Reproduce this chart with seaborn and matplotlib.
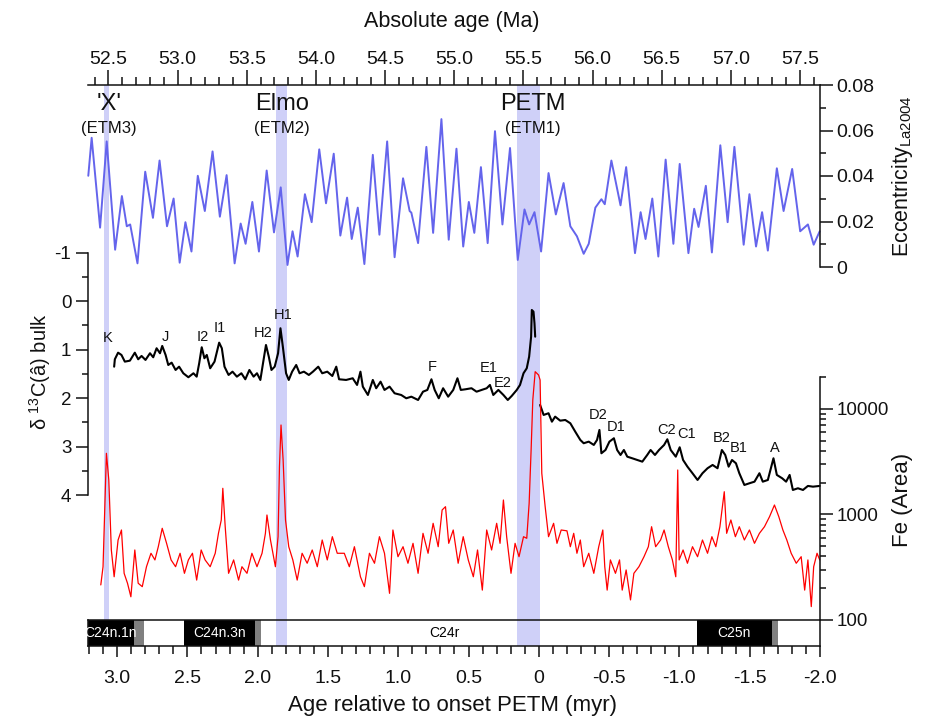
import numpy as np
import matplotlib
matplotlib.use("Agg")
import matplotlib.pyplot as plt
import matplotlib.ticker as mticker
import matplotlib.transforms as mtransforms
import seaborn as sns

# ---------------- data ----------------
# eccentricity (La2004) vs age relative to PETM onset (myr)
ecc_age = [3.205, 3.181, 3.121, 3.074, 3.014, 2.966, 2.931, 2.907, 2.855, 2.800,
           2.745, 2.698, 2.645, 2.598, 2.555, 2.514, 2.471, 2.426, 2.376, 2.321,
           2.269, 2.221, 2.164, 2.121, 2.086, 2.038, 1.991, 1.936, 1.884, 1.836,
           1.788, 1.752, 1.716, 1.664, 1.616, 1.562, 1.514, 1.459, 1.412, 1.364,
           1.331, 1.288, 1.241, 1.181, 1.134, 1.079, 1.026, 0.966, 0.919, 0.907,
           0.859, 0.800, 0.752, 0.693, 0.641, 0.586, 0.538, 0.498, 0.459, 0.412,
           0.364, 0.312, 0.259, 0.205, 0.150, 0.102, 0.069, 0.031, -0.016, -0.069,
           -0.121, -0.176, -0.224, -0.271, -0.319, -0.355, -0.402, -0.445, -0.469, -0.516,
           -0.581, -0.621, -0.684, -0.724, -0.759, -0.807, -0.850, -0.902, -0.957, -1.002,
           -1.064, -1.105, -1.136, -1.188, -1.231, -1.291, -1.343, -1.391, -1.457, -1.498,
           -1.545, -1.588, -1.629, -1.693, -1.741, -1.802, -1.859, -1.914, -1.955, -1.998]
ecc_val = [0.0401, 0.0568, 0.0173, 0.0552, 0.0076, 0.0312, 0.0179, 0.0187, 0.0016, 0.0419,
           0.0216, 0.0468, 0.0179, 0.0301, 0.0019, 0.0197, 0.0068, 0.0401, 0.0246, 0.0508,
           0.0221, 0.0404, 0.0016, 0.0191, 0.0102, 0.0286, 0.0068, 0.0424, 0.0152, 0.0350,
           0.0009, 0.0157, 0.0046, 0.0320, 0.0197, 0.0517, 0.0280, 0.0498, 0.0138, 0.0305,
           0.0123, 0.0261, 0.0013, 0.0493, 0.0142, 0.0552, 0.0043, 0.0390, 0.0246, 0.0239,
           0.0105, 0.0528, 0.0150, 0.0650, 0.0120, 0.0520, 0.0090, 0.0286, 0.0150, 0.0439,
           0.0105, 0.0597, 0.0187, 0.0523, 0.0031, 0.0253, 0.0187, 0.0241, 0.0068, 0.0413,
           0.0231, 0.0369, 0.0179, 0.0135, 0.0058, 0.0102, 0.0261, 0.0298, 0.0276, 0.0468,
           0.0271, 0.0439, 0.0061, 0.0241, 0.0123, 0.0301, 0.0046, 0.0472, 0.0102, 0.0453,
           0.0061, 0.0256, 0.0176, 0.0357, 0.0064, 0.0535, 0.0197, 0.0528, 0.0098, 0.0320,
           0.0090, 0.0241, 0.0072, 0.0434, 0.0246, 0.0431, 0.0157, 0.0187, 0.0098, 0.0157]

# bulk d13C, pre-PETM part (through the CIE)
c13_age_pre = [3.021, 3.016, 2.993, 2.969, 2.945, 2.909, 2.874, 2.850, 2.826, 2.798,
               2.766, 2.743, 2.719, 2.695, 2.679, 2.655, 2.636, 2.612, 2.584, 2.559,
               2.529, 2.493, 2.457, 2.434, 2.416, 2.398, 2.379, 2.362, 2.338, 2.307,
               2.274, 2.255, 2.236, 2.207, 2.179, 2.148, 2.116, 2.088, 2.059, 2.029,
               2.005, 1.981, 1.964, 1.941, 1.921, 1.902, 1.879, 1.855, 1.838, 1.821,
               1.798, 1.779, 1.755, 1.726, 1.702, 1.671, 1.636, 1.607, 1.569, 1.541,
               1.505, 1.469, 1.441, 1.421, 1.371, 1.324, 1.293, 1.269, 1.252, 1.216,
               1.181, 1.157, 1.126, 1.098, 1.062, 1.026, 0.979, 0.943, 0.907, 0.859,
               0.824, 0.793, 0.764, 0.741, 0.712, 0.681, 0.645, 0.609, 0.579, 0.555,
               0.521, 0.479, 0.443, 0.407, 0.371, 0.348, 0.324, 0.288, 0.252, 0.221,
               0.193, 0.157, 0.134, 0.109, 0.086, 0.069, 0.055, 0.050, 0.038, 0.031, 0.026]
c13_val_pre = [1.352, 1.199, 1.063, 1.110, 1.248, 1.228, 1.063, 1.199, 1.131, 1.213,
               1.075, 1.158, 0.972, 1.075, 0.924, 1.110, 1.317, 1.269, 1.420, 1.352,
               1.488, 1.570, 1.488, 1.558, 1.281, 0.951, 1.178, 1.110, 1.385, 1.248,
               0.856, 0.972, 1.352, 1.523, 1.455, 1.558, 1.488, 1.612, 1.420, 1.558,
               1.488, 1.626, 1.317, 0.904, 1.145, 1.420, 1.352, 1.075, 0.559, 0.939,
               1.488, 1.626, 1.455, 1.317, 1.488, 1.455, 1.523, 1.455, 1.352, 1.488,
               1.455, 1.544, 1.352, 1.612, 1.626, 1.591, 1.729, 1.455, 1.764, 1.936,
               1.626, 1.797, 1.661, 1.832, 1.764, 1.901, 1.936, 2.004, 1.971, 2.039,
               1.868, 1.832, 1.612, 1.832, 2.004, 1.797, 1.971, 1.832, 1.591, 1.832,
               1.818, 1.797, 1.868, 1.832, 1.797, 1.729, 1.936, 1.832, 1.936, 2.039,
               1.956, 1.832, 1.729, 1.488, 1.385, 1.145, 0.733, 0.182, 0.217, 0.456, 0.733]

# bulk d13C, post-PETM part
c13_age_post = [-0.009, -0.034, -0.069, -0.093, -0.116, -0.152, -0.188, -0.224, -0.259, -0.295,
                -0.319, -0.355, -0.391, -0.414, -0.431, -0.445, -0.474, -0.502, -0.534, -0.557,
                -0.581, -0.605, -0.629, -0.664, -0.700, -0.736, -0.771, -0.795, -0.826, -0.855,
                -0.891, -0.914, -0.938, -0.974, -1.002, -1.026, -1.057, -1.093, -1.129, -1.164,
                -1.200, -1.236, -1.271, -1.302, -1.326, -1.350, -1.374, -1.402, -1.426, -1.462,
                -1.498, -1.534, -1.569, -1.593, -1.629, -1.669, -1.693, -1.731, -1.759, -1.784,
                -1.807, -1.843, -1.879, -1.914, -1.950, -1.998]
c13_val_post = [2.142, 2.348, 2.313, 2.487, 2.383, 2.466, 2.452, 2.520, 2.693, 2.864,
                2.932, 2.899, 2.967, 2.864, 2.658, 3.139, 3.071, 2.899, 2.829, 3.071,
                3.174, 3.071, 3.209, 3.242, 3.277, 3.312, 3.174, 3.071, 3.174, 3.071,
                2.967, 2.850, 3.071, 3.209, 3.015, 3.277, 3.415, 3.551, 3.690, 3.551,
                3.448, 3.380, 3.448, 3.071, 3.174, 3.415, 3.277, 3.345, 3.551, 3.793,
                3.758, 3.725, 3.551, 3.725, 3.690, 3.242, 3.586, 3.655, 3.725, 3.586,
                3.896, 3.861, 3.896, 3.813, 3.828, 3.813]

# XRF Fe (area)
fe_age = [3.116, 3.100, 3.076, 3.059, 3.041, 3.021, 2.993, 2.969, 2.950, 2.926,
          2.902, 2.874, 2.850, 2.821, 2.791, 2.759, 2.731, 2.707, 2.679, 2.648,
          2.616, 2.584, 2.552, 2.521, 2.493, 2.464, 2.434, 2.402, 2.374, 2.338,
          2.302, 2.279, 2.259, 2.248, 2.231, 2.207, 2.171, 2.136, 2.112, 2.076,
          2.041, 2.005, 1.969, 1.945, 1.934, 1.909, 1.874, 1.855, 1.845, 1.834,
          1.819, 1.802, 1.779, 1.750, 1.719, 1.684, 1.648, 1.612, 1.576, 1.541,
          1.505, 1.469, 1.434, 1.384, 1.348, 1.312, 1.269, 1.241, 1.205, 1.169,
          1.134, 1.098, 1.062, 1.038, 1.002, 0.966, 0.931, 0.895, 0.859, 0.824,
          0.788, 0.752, 0.716, 0.688, 0.664, 0.641, 0.609, 0.574, 0.538, 0.502,
          0.466, 0.436, 0.402, 0.371, 0.336, 0.300, 0.276, 0.252, 0.229, 0.198,
          0.169, 0.141, 0.109, 0.086, 0.069, 0.055, 0.043, 0.026, 0.002, -0.009,
          -0.021, -0.045, -0.069, -0.105, -0.129, -0.159, -0.200, -0.224, -0.248, -0.271,
          -0.295, -0.319, -0.355, -0.391, -0.426, -0.455, -0.469, -0.486, -0.509, -0.545,
          -0.574, -0.593, -0.621, -0.652, -0.676, -0.712, -0.748, -0.779, -0.802, -0.831,
          -0.866, -0.891, -0.921, -0.950, -0.974, -0.988, -0.998, -1.026, -1.057, -1.093,
          -1.129, -1.164, -1.200, -1.231, -1.259, -1.288, -1.319, -1.336, -1.366, -1.398,
          -1.426, -1.462, -1.498, -1.534, -1.569, -1.605, -1.641, -1.676, -1.707, -1.736,
          -1.764, -1.795, -1.831, -1.866, -1.891, -1.914, -1.938, -1.955, -1.979, -1.998]
fe_val = [215, 320, 3800, 2124, 461, 257, 573, 713, 277, 223,
          166, 461, 223, 207, 320, 429, 371, 495, 740, 533,
          371, 320, 429, 277, 371, 429, 239, 461, 371, 320,
          429, 663, 887, 1771, 766, 277, 371, 239, 320, 277,
          429, 320, 429, 663, 989, 573, 320, 616, 2838, 7050,
          3286, 887, 495, 371, 239, 429, 345, 461, 320, 573,
          371, 616, 429, 429, 320, 495, 257, 207, 429, 345,
          616, 429, 179, 713, 398, 495, 345, 533, 277, 663,
          429, 825, 495, 1103, 1186, 533, 713, 345, 616, 371,
          257, 461, 192, 713, 461, 825, 533, 1372, 616, 277,
          533, 398, 616, 595, 1277, 4087, 12170, 22580, 21000, 18830,
          2457, 1186, 616, 825, 533, 713, 700, 495, 663, 429,
          573, 320, 429, 277, 495, 713, 320, 192, 371, 277,
          371, 192, 298, 155, 277, 320, 398, 495, 766, 495,
          573, 713, 495, 371, 257, 2642, 371, 461, 345, 495,
          398, 573, 429, 616, 495, 766, 1644, 663, 887, 616,
          766, 573, 713, 533, 663, 766, 953, 1230, 953, 713,
          573, 429, 345, 398, 192, 371, 134, 320, 429, 371]

# labelled d13C excursions
peak_names = ['K', 'J', 'I2', 'I1', 'H2', 'H1', 'F', 'E1', 'E2',
              'D2', 'D1', 'C2', 'C1', 'B2', 'B1', 'A']
peak_age = [3.07, 2.66, 2.39, 2.27, 1.96, 1.82, 0.76, 0.36, 0.26,
            -0.42, -0.55, -0.91, -1.05, -1.30, -1.42, -1.68]
peak_val = [0.77, 0.73, 0.73, 0.56, 0.66, 0.28, 1.36, 1.38, 1.69,
            2.35, 2.59, 2.66, 2.74, 2.83, 3.04, 3.04]

# hyperthermal events (shaded bands)
event_names = ["'X'", "Elmo", "PETM"]
event_sub = ["(ETM3)", "(ETM2)", "(ETM1)"]
event_start = [3.093, 1.871, 0.157]
event_end = [3.055, 1.793, -0.009]
event_label_age = [3.06, 1.83, 0.04]

# magnetochrons
chron_start = [3.207, 2.88, 2.81, 2.526, 2.02, 1.974, -1.125, -1.658, -1.70]
chron_end = [2.88, 2.81, 2.526, 2.02, 1.974, -1.125, -1.658, -1.70, -2.0]
chron_fill = ['black', 'gray', 'white', 'black', 'gray', 'white', 'black', 'gray', 'white']
chron_names = ['C24n.1n', 'C24n.3n', 'C24r', 'C25n']
chron_name_age = [3.05, 2.27, 0.67, -1.39]
chron_name_color = ['white', 'white', 'black', 'white']

rel_ticks = [3.0, 2.5, 2.0, 1.5, 1.0, 0.5, 0.0, -0.5, -1.0, -1.5, -2.0]

# ---------------- style ----------------
sns.set_theme(style="ticks")
plt.rcParams['font.family'] = ['Liberation Sans', 'DejaVu Sans']
plt.rcParams['axes.unicode_minus'] = False
NARROW = ['Liberation Sans Narrow', 'Liberation Sans', 'DejaVu Sans']
BAND = '#cfd0f8'
ECC_C = '#6464ec'
INK = '#111111'
SPW = 1.1

fig = plt.figure(figsize=(9.3, 7.17), dpi=100)
W, H = 930.0, 717.0
XLIM = (3.207, -2.0)


def add_ax(x0, y0, x1, y1):
    ax = fig.add_axes([x0 / W, 1 - y1 / H, (x1 - x0) / W, (y1 - y0) / H])
    ax.set_facecolor('none')
    for s in ax.spines.values():
        s.set_visible(False)
        s.set_linewidth(SPW)
        s.set_color(INK)
    ax.tick_params(which='both', left=False, right=False, top=False, bottom=False,
                   labelleft=False, labelright=False, labeltop=False, labelbottom=False,
                   color=INK, width=SPW, labelcolor=INK)
    ax.grid(False)
    return ax


# base axes: event bands and labels
base = add_ax(88, 85, 820, 646)
base.set_xlim(*XLIM)
base.set_ylim(0, 1)
for s, e in zip(event_start, event_end):
    base.axvspan(s, e, color=BAND, lw=0, zorder=0)
tr = mtransforms.blended_transform_factory(base.transData, base.transAxes)
for name, sub, xa in zip(event_names, event_sub, event_label_age):
    base.text(xa, 0.966, name, ha='center', va='center', fontsize=17, color=INK, transform=tr)
    base.text(xa, 0.922, sub, ha='center', va='center', fontsize=12, color=INK, transform=tr)

# top axis: absolute age
top = add_ax(88, 85, 820, 646)
top.set_xlim(52.352, 57.645)
top.spines['top'].set_visible(True)
top.xaxis.set_ticks_position('top')
top.xaxis.set_major_locator(mticker.MultipleLocator(0.5))
top.xaxis.set_minor_locator(mticker.MultipleLocator(0.1))
top.xaxis.set_major_formatter(mticker.FormatStrFormatter('%.1f'))
top.tick_params(which='both', top=True, labeltop=True, direction='out')
top.tick_params(which='major', length=10.5, labelsize=14, pad=1.5, labelfontfamily=NARROW)
top.tick_params(which='minor', length=5.5)
top.set_yticks([])

# eccentricity
ax_e = add_ax(88, 85, 820, 267)
sns.lineplot(x=ecc_age, y=ecc_val, ax=ax_e, color=ECC_C, linewidth=1.4,
             sort=False, estimator=None, clip_on=False)
ax_e.set_xlim(*XLIM)
ax_e.set_ylim(0, 0.08)
ax_e.spines['right'].set_visible(True)
ax_e.yaxis.set_ticks_position('right')
ax_e.yaxis.set_major_locator(mticker.MultipleLocator(0.02))
ax_e.yaxis.set_minor_locator(mticker.MultipleLocator(0.01))
ax_e.yaxis.set_major_formatter(mticker.FuncFormatter(lambda v, _: '0' if abs(v) < 1e-9 else f'{v:.2f}'))
ax_e.tick_params(which='both', right=True, labelright=True, direction='out')
ax_e.tick_params(which='major', length=9, labelsize=14, pad=3)
ax_e.tick_params(which='minor', length=4.5)
ax_e.set_xlabel(''); ax_e.set_ylabel('')
ax_e.set_xticks([])

# d13C
ax_c = add_ax(88, 252.7, 820, 495)
sns.lineplot(x=c13_age_pre, y=c13_val_pre, ax=ax_c, color='black', linewidth=1.5,
             sort=False, estimator=None, clip_on=False)
sns.lineplot(x=c13_age_post, y=c13_val_post, ax=ax_c, color='black', linewidth=1.5,
             sort=False, estimator=None, clip_on=False)
ax_c.set_xlim(*XLIM)
ax_c.set_ylim(4, -1)
ax_c.spines['left'].set_visible(True)
ax_c.yaxis.set_ticks_position('left')
ax_c.yaxis.set_major_locator(mticker.MultipleLocator(1))
ax_c.yaxis.set_minor_locator(mticker.MultipleLocator(0.5))
ax_c.yaxis.set_major_formatter(mticker.FormatStrFormatter('%d'))
ax_c.tick_params(which='both', left=True, labelleft=True, direction='out')
ax_c.tick_params(which='major', length=9, labelsize=13.5, pad=3)
ax_c.tick_params(which='minor', length=4.5)
ax_c.set_xlabel(''); ax_c.set_ylabel('')
ax_c.set_xticks([])
for n, a, v in zip(peak_names, peak_age, peak_val):
    ax_c.text(a, v, n, ha='center', va='center', fontsize=10.5, color=INK)

# Fe
ax_f = add_ax(88, 377, 820, 620)
ax_f.set_yscale('log')
sns.lineplot(x=fe_age, y=fe_val, ax=ax_f, color='#ff0000', linewidth=0.9,
             sort=False, estimator=None, clip_on=False)
ax_f.set_xlim(*XLIM)
ax_f.set_ylim(100, 20100)
ax_f.spines['right'].set_visible(True)
ax_f.yaxis.set_ticks_position('right')
ax_f.yaxis.set_major_locator(mticker.FixedLocator([100, 1000, 10000]))
ax_f.yaxis.set_major_formatter(mticker.FuncFormatter(lambda v, _: f'{int(round(v))}'))
ax_f.yaxis.set_minor_locator(mticker.LogLocator(base=10, subs=np.arange(2, 10)))
ax_f.yaxis.set_minor_formatter(mticker.NullFormatter())
ax_f.tick_params(which='both', right=True, labelright=True, direction='out')
ax_f.tick_params(which='major', length=9, labelsize=13.5, pad=3)
ax_f.tick_params(which='minor', length=4.5)
ax_f.set_xlabel(''); ax_f.set_ylabel('')
ax_f.set_xticks([])

# magnetochron bar + bottom axis
ax_b = add_ax(88, 620, 820, 646)
for s, e, c in zip(chron_start, chron_end, chron_fill):
    ax_b.barh(0.5, e - s, left=s, height=1.0, color=('none' if c == 'white' else c),
              edgecolor='none', linewidth=0)
for n, a, c in zip(chron_names, chron_name_age, chron_name_color):
    ax_b.text(a, 0.5, n, ha='center', va='center', fontsize=10, color=c, family=NARROW)
ax_b.set_xlim(*XLIM)
ax_b.set_ylim(0, 1)
for s in ax_b.spines.values():
    s.set_visible(True)
ax_b.xaxis.set_ticks_position('bottom')
ax_b.set_xticks(rel_ticks)
ax_b.xaxis.set_minor_locator(mticker.MultipleLocator(0.1))
ax_b.xaxis.set_major_formatter(mticker.FuncFormatter(lambda v, _: '0' if abs(v) < 1e-9 else f'{v:.1f}'))
ax_b.tick_params(which='both', bottom=True, labelbottom=True, direction='out')
ax_b.tick_params(which='major', length=8, labelsize=14, pad=9, labelfontfamily=NARROW)
ax_b.tick_params(which='minor', length=6)
ax_b.set_yticks([])

# axis titles
fig.text(452 / W, 1 - 22 / H, 'Absolute age (Ma)', ha='center', va='center',
         fontsize=15.5, family=NARROW, color=INK)
fig.text(452 / W, 1 - 705 / H, 'Age relative to onset PETM (myr)', ha='center', va='center',
         fontsize=16, family=NARROW, color=INK)
fig.text(40 / W, 1 - 372 / H, r'δ $\mathregular{^{13}}$C(â) bulk', rotation=90,
         ha='center', va='center', fontsize=14.5, color=INK)
fig.text(902 / W, 1 - 176 / H, r'Eccentricity$\mathregular{_{La2004}}$', rotation=90,
         ha='center', va='center', fontsize=15.5, color=INK)
fig.text(902 / W, 1 - 500 / H, 'Fe (Area)', rotation=90,
         ha='center', va='center', fontsize=16, color=INK)

fig.savefig('out.png', dpi=100)
